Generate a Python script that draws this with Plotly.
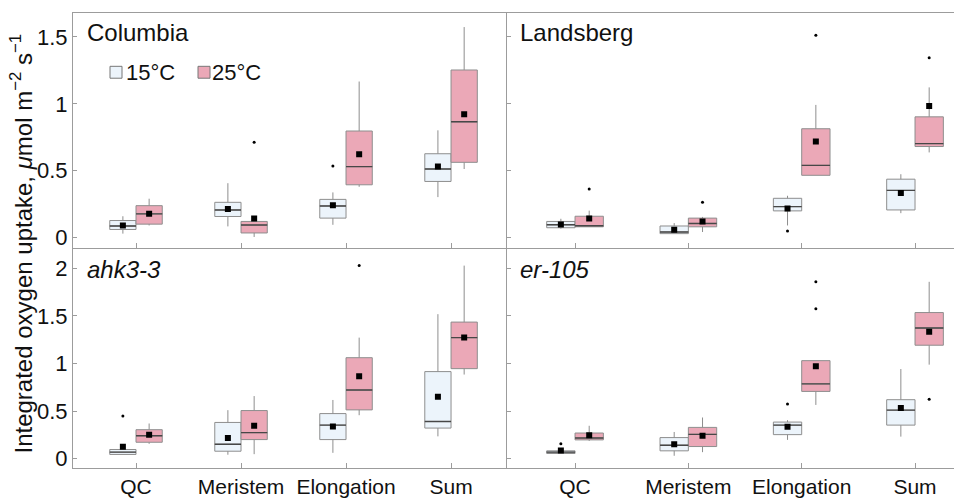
import plotly.graph_objects as go

# ---- data -----------------------------------------------------------------
CATEGORIES = ["QC", "Meristem", "Elongation", "Sum"]
PANELS = ["Columbia", "Landsberg", "ahk3-3", "er-105"]
TEMPS = ["15°C", "25°C"]

TOP_TICKS = [0, 0.5, 1, 1.5]
TOP_TICK_TEXT = ["0", "0.5", "1", "1.5"]
BOTTOM_TICKS = [0, 0.5, 1, 1.5, 2]
BOTTOM_TICK_TEXT = ["0", "0.5", "1", "1.5", "2"]

# Columbia
col15_q1 = [0.061, 0.158, 0.146, 0.420]
col15_med = [0.087, 0.207, 0.237, 0.513]
col15_q3 = [0.128, 0.264, 0.286, 0.627]
col15_lo = [0.030, 0.084, 0.096, 0.303]
col15_hi = [0.160, 0.407, 0.338, 0.802]
col15_mean = [0.091, 0.215, 0.242, 0.531]
col15_out = [[], [], [0.535], []]

col25_q1 = [0.101, 0.035, 0.395, 0.563]
col25_med = [0.178, 0.094, 0.531, 0.866]
col25_q3 = [0.239, 0.121, 0.797, 1.253]
col25_lo = [0.091, 0.005, 0.380, 0.513]
col25_hi = [0.291, 0.125, 1.167, 1.574]
col25_mean = [0.178, 0.143, 0.624, 0.923]
col25_out = [[], [0.713], [], []]

# Landsberg
lan15_q1 = [0.074, 0.030, 0.200, 0.207]
lan15_med = [0.096, 0.042, 0.232, 0.353]
lan15_q3 = [0.121, 0.087, 0.294, 0.437]
lan15_lo = [0.067, 0.030, 0.091, 0.183]
lan15_hi = [0.141, 0.109, 0.313, 0.474]
lan15_mean = [0.099, 0.059, 0.217, 0.333]
lan15_out = [[], [], [0.050], []]

lan25_q1 = [0.081, 0.081, 0.466, 0.681]
lan25_med = [0.089, 0.106, 0.540, 0.703]
lan25_q3 = [0.160, 0.146, 0.814, 0.903]
lan25_lo = [0.081, 0.042, 0.466, 0.637]
lan25_hi = [0.202, 0.155, 0.992, 1.123]
lan25_mean = [0.143, 0.121, 0.718, 0.984]
lan25_out = [[0.363], [0.264], [1.512], [1.345]]

# ahk3-3
ahk15_q1 = [0.045, 0.079, 0.201, 0.322]
ahk15_med = [0.069, 0.152, 0.353, 0.391]
ahk15_q3 = [0.097, 0.381, 0.474, 0.915]
ahk15_lo = [0.045, 0.042, 0.062, 0.235]
ahk15_hi = [0.097, 0.510, 0.617, 1.518]
ahk15_mean = [0.125, 0.218, 0.339, 0.651]
ahk15_out = [[0.450], [], [], []]

ahk25_q1 = [0.173, 0.201, 0.513, 0.946]
ahk25_med = [0.242, 0.274, 0.721, 1.272]
ahk25_q3 = [0.305, 0.506, 1.061, 1.435]
ahk25_lo = [0.156, 0.048, 0.457, 0.884]
ahk25_hi = [0.370, 0.658, 1.272, 2.028]
ahk25_mean = [0.253, 0.346, 0.866, 1.272]
ahk25_out = [[], [], [2.028], []]

# er-105
er15_q1 = [0.055, 0.083, 0.253, 0.353]
er15_med = [0.069, 0.142, 0.353, 0.510]
er15_q3 = [0.083, 0.222, 0.385, 0.620]
er15_lo = [0.055, 0.031, 0.198, 0.232]
er15_hi = [0.083, 0.281, 0.405, 0.942]
er15_mean = [0.086, 0.152, 0.336, 0.534]
er15_out = [[0.156], [], [0.575], []]

er25_q1 = [0.198, 0.128, 0.707, 1.192]
er25_med = [0.218, 0.256, 0.786, 1.373]
er25_q3 = [0.270, 0.329, 1.030, 1.535]
er25_lo = [0.187, 0.069, 0.565, 0.988]
er25_hi = [0.346, 0.433, 1.030, 1.858]
er25_mean = [0.246, 0.242, 0.970, 1.334]
er25_out = [[], [], [1.574, 1.858], [0.624]]

STATS = {
    "Columbia": [
        (col15_q1, col15_med, col15_q3, col15_lo, col15_hi, col15_mean, col15_out),
        (col25_q1, col25_med, col25_q3, col25_lo, col25_hi, col25_mean, col25_out),
    ],
    "Landsberg": [
        (lan15_q1, lan15_med, lan15_q3, lan15_lo, lan15_hi, lan15_mean, lan15_out),
        (lan25_q1, lan25_med, lan25_q3, lan25_lo, lan25_hi, lan25_mean, lan25_out),
    ],
    "ahk3-3": [
        (ahk15_q1, ahk15_med, ahk15_q3, ahk15_lo, ahk15_hi, ahk15_mean, ahk15_out),
        (ahk25_q1, ahk25_med, ahk25_q3, ahk25_lo, ahk25_hi, ahk25_mean, ahk25_out),
    ],
    "er-105": [
        (er15_q1, er15_med, er15_q3, er15_lo, er15_hi, er15_mean, er15_out),
        (er25_q1, er25_med, er25_q3, er25_lo, er25_hi, er25_mean, er25_out),
    ],
}

# ---- style ----------------------------------------------------------------
FONT = "Liberation Sans, Arial, Helvetica, sans-serif"
FILLS = ["#ecf4fb", "#eba8b7"]
BOX_LINE = "#8e8e8e"
MEDIAN_LINE = "#474747"
AXIS_LINE = "#9c9c9c"
TEXT = "#111111"

W, H = 954, 498
BOX_GAP = 0.5
BOX_W = (1 - BOX_GAP) / 2          # width of one box in category units
OFFSETS = [-BOX_W / 2, BOX_W / 2]  # 15 °C left of the tick, 25 °C right

# panel frame in pixels
LEFT, MID, RIGHT = 73, 506.7, 954
TOP, ROWSPLIT, BOTTOM = 13, 251, 473


def px_x(p):
    return p / W


def px_y(p):
    return 1 - p / H


AXES = [("x", "y"), ("x2", "y2"), ("x3", "y3"), ("x4", "y4")]

fig = go.Figure()
positions = list(range(len(CATEGORIES)))

for (xa, ya), panel in zip(AXES, PANELS):
    for ti, (q1, med, q3, lo, hi, mean, out) in enumerate(STATS[panel]):
        fig.add_trace(go.Box(
            x=positions, q1=q1, median=med, q3=q3,
            lowerfence=lo, upperfence=hi,
            name=TEMPS[ti], offsetgroup=TEMPS[ti],
            fillcolor=FILLS[ti], line=dict(color=BOX_LINE, width=1),
            whiskerwidth=0, boxpoints=False, showlegend=False,
            xaxis=xa, yaxis=ya,
        ))

for (xa, ya), panel in zip(AXES, PANELS):
    for ti, (q1, med, q3, lo, hi, mean, out) in enumerate(STATS[panel]):
        off = OFFSETS[ti]
        # darker median bars drawn over each box
        mx, my = [], []
        for c, m in zip(positions, med):
            mx += [c + off - BOX_W / 2, c + off + BOX_W / 2, None]
            my += [m, m, None]
        fig.add_trace(go.Scatter(
            x=mx, y=my, mode="lines", line=dict(color=MEDIAN_LINE, width=1.4),
            showlegend=False, hoverinfo="skip", xaxis=xa, yaxis=ya,
        ))
        # means
        fig.add_trace(go.Scatter(
            x=[c + off for c in positions], y=mean, mode="markers",
            marker=dict(symbol="square", size=6, color="black"),
            showlegend=False, xaxis=xa, yaxis=ya,
        ))
        # outliers
        ox, oy = [], []
        for c, pts in zip(positions, out):
            for v in pts:
                ox.append(c + off)
                oy.append(v)
        fig.add_trace(go.Scatter(
            x=ox, y=oy, mode="markers",
            marker=dict(symbol="circle", size=3, color="black"),
            showlegend=False, xaxis=xa, yaxis=ya,
        ))

tick_font = dict(family=FONT, size=21, color=TEXT)


def xaxis(domain, rng, anchor, top_row):
    return dict(
        domain=domain, range=rng, anchor=anchor,
        tickvals=positions, ticktext=CATEGORIES,
        showticklabels=not top_row, tickfont=tick_font,
        ticks="inside", ticklen=5, tickcolor=AXIS_LINE, tickwidth=1,
        showline=True, linecolor=AXIS_LINE, linewidth=1, mirror=top_row,
        showgrid=False, zeroline=False,
    )


def yaxis(domain, rng, anchor, vals, text, labels):
    return dict(
        domain=domain, range=rng, anchor=anchor,
        tickvals=vals, ticktext=text, showticklabels=labels,
        tickfont=dict(family=FONT, size=22, color=TEXT),
        ticks="inside", ticklen=4, tickcolor=AXIS_LINE, tickwidth=1,
        showline=True, linecolor=AXIS_LINE, linewidth=1,
        showgrid=False, zeroline=False,
    )


left_dom = [px_x(LEFT), px_x(MID)]
right_dom = [px_x(MID), 1.0]
top_dom = [px_y(ROWSPLIT), px_y(TOP)]
bot_dom = [px_y(BOTTOM), px_y(ROWSPLIT)]

left_rng = [-0.6, 3.53]
right_rng = [-0.603, 3.344]
top_rng = [-0.081, 1.68]
bot_rng = [-0.1, 2.208]

annotations = []
title_pos = [(85, 33), (518, 33), (85, 272), (518, 272)]
for panel, (ax_, ay_), italic in zip(PANELS, title_pos, [False, False, True, True]):
    txt = f"<i>{panel}</i>" if italic else panel
    annotations.append(dict(
        text=txt, x=px_x(ax_), y=px_y(ay_), xref="paper", yref="paper",
        xanchor="left", yanchor="middle", showarrow=False,
        font=dict(family=FONT, size=24, color=TEXT),
    ))

annotations.append(dict(
    text="Integrated oxygen uptake, <i>μ</i>mol m<sup>−2</sup> s<sup>−1</sup>",
    x=px_x(21), y=px_y(246), xref="paper", yref="paper",
    xanchor="center", yanchor="middle", textangle=-90, showarrow=False,
    font=dict(family=FONT, size=24, color=TEXT),
))

# legend: swatch + label
shapes = []
legend_items = [(110, 126), (198, 212)]
for ti, (sx, tx) in enumerate(legend_items):
    shapes.append(dict(
        type="rect", xref="paper", yref="paper",
        x0=px_x(sx), x1=px_x(sx + 12), y0=px_y(79), y1=px_y(67),
        fillcolor=FILLS[ti], line=dict(color="#777777", width=1),
    ))
    annotations.append(dict(
        text=TEMPS[ti], x=px_x(tx - 2), y=px_y(73), xref="paper", yref="paper",
        xanchor="left", yanchor="middle", showarrow=False,
        font=dict(family=FONT, size=22, color=TEXT),
    ))

fig.update_layout(
    width=W, height=H,
    margin=dict(l=0, r=0, t=0, b=0),
    paper_bgcolor="white", plot_bgcolor="white",
    boxmode="group", boxgap=BOX_GAP, boxgroupgap=0,
    showlegend=False,
    xaxis=xaxis(left_dom, left_rng, "y", True),
    yaxis=yaxis(top_dom, top_rng, "x", TOP_TICKS, TOP_TICK_TEXT, True),
    xaxis2=xaxis(right_dom, right_rng, "y2", True),
    yaxis2=yaxis(top_dom, top_rng, "x2", TOP_TICKS, TOP_TICK_TEXT, False),
    xaxis3=xaxis(left_dom, left_rng, "y3", False),
    yaxis3=yaxis(bot_dom, bot_rng, "x3", BOTTOM_TICKS, BOTTOM_TICK_TEXT, True),
    xaxis4=xaxis(right_dom, right_rng, "y4", False),
    yaxis4=yaxis(bot_dom, bot_rng, "x4", BOTTOM_TICKS, BOTTOM_TICK_TEXT, False),
    annotations=annotations,
    shapes=shapes,
)

fig.write_html("out.html")
